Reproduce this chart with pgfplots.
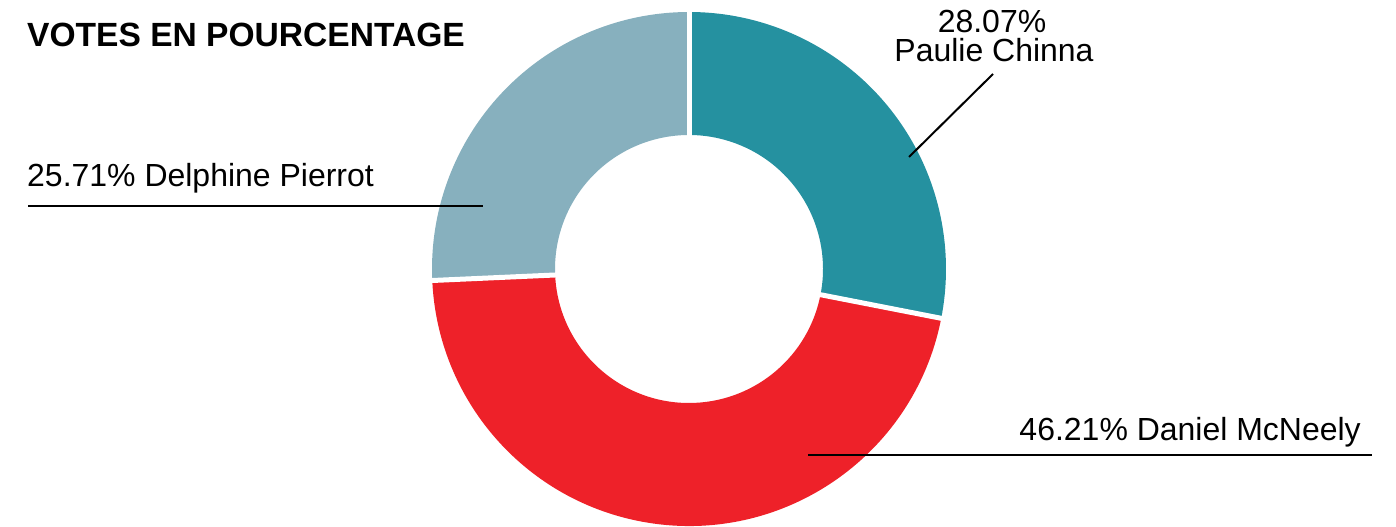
\documentclass[border=0pt]{standalone}
\usepackage{pgfplots}
\pgfplotsset{compat=1.18}
\usepackage{pgfplotstable}
\usetikzlibrary{calc}
\usepackage{fontspec}
\setmainfont{Liberation Sans}
\definecolor{cteal}{HTML}{2591A0}
\definecolor{cred}{HTML}{EE2129}
\definecolor{cgray}{HTML}{87B0BE}
\pgfplotstableread{
name votes
Paulie 28.07
Daniel 46.21
Delphine 25.71
}\votes
\newcommand\slice[3]{%
  \fill[#3] ($(C)+(#1:51.4mm)$) arc[start angle=#1, end angle=#2, radius=51.4mm]
    -- ($(C)+(#2:26.8mm)$) arc[start angle=#2, end angle=#1, radius=26.8mm] -- cycle;}
\newcommand\sep[1]{%
  \draw[white, line width=1mm] ($(C)+(#1:25mm)$) -- ($(C)+(#1:53mm)$);}
\begin{document}
\begin{tikzpicture}
\pgfplotstablegetelem{0}{votes}\of\votes \global\let\va\pgfplotsretval
\pgfplotstablegetelem{1}{votes}\of\votes \global\let\vb\pgfplotsretval
\pgfplotstablegetelem{2}{votes}\of\votes \global\let\vc\pgfplotsretval
\pgfmathsetmacro\tot{\va+\vb+\vc}
\pgfmathsetmacro\aA{90}
\pgfmathsetmacro\aB{90-360*(\va/\tot)}
\pgfmathsetmacro\aC{\aB-360*(\vb/\tot)}
\pgfmathsetmacro\aD{90-360}
\begin{axis}[
  x=0.2mm, y=0.2mm,
  xmin=0, xmax=1396, ymin=0, ymax=527,
  hide axis, clip=false,
  every node/.style={inner sep=0pt, outer sep=0pt},
]
\coordinate (C) at (axis cs:689,258);
\coordinate (BL) at (axis cs:0,0);
\coordinate (TR) at (axis cs:1396,527);
\slice{\aA}{\aB}{cteal}
\slice{\aB}{\aC}{cred}
\slice{\aC}{\aD}{cgray}
\sep{\aA}
\sep{\aB}
\sep{\aC}
% leader lines
\draw[black, line width=0.4mm] (axis cs:909,370) -- (axis cs:993,453);
\draw[black, line width=0.4mm] (axis cs:28,321) -- (axis cs:483,321);
\draw[black, line width=0.4mm] (axis cs:808,72) -- (axis cs:1372,72);
% texts
\node[anchor=base west, font=\fontsize{19.1}{22}\selectfont\bfseries] at (axis cs:21,480) {VOTES EN POURCENTAGE};
\node[anchor=base, font=\fontsize{18.2}{21}\selectfont] at (axis cs:992,494) {\va\%};
\node[anchor=base, font=\fontsize{18.2}{21}\selectfont] at (axis cs:994,465) {Paulie Chinna};
\node[anchor=base west, font=\fontsize{18.2}{21}\selectfont] at (axis cs:21,340) {\vc\% Delphine Pierrot};
\node[anchor=base east, font=\fontsize{18.2}{21}\selectfont] at (axis cs:1367,86) {\vb\% Daniel McNeely};
\end{axis}
\pgfresetboundingbox
\path[use as bounding box] (BL) rectangle (TR);
\end{tikzpicture}
\end{document}
